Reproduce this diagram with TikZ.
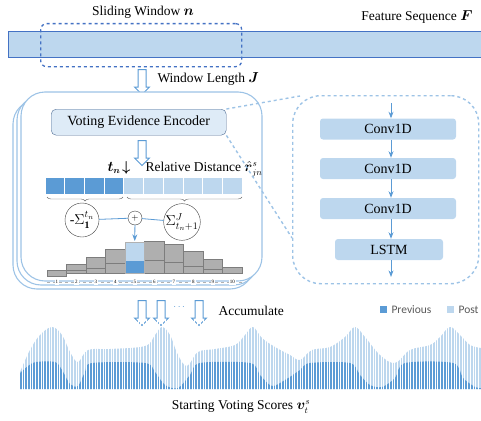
\documentclass[tikz,border=0pt]{standalone}
\usepackage{amsmath,amssymb,bm}
\usepackage{fontspec}
\setmainfont{Liberation Serif}
\newfontfamily\legendfont{Carlito}
\usetikzlibrary{
  arrows.meta, shapes.arrows, positioning, calc,
  decorations.pathreplacing
}
\definecolor{BlueDark}{RGB}{91,155,213}
\definecolor{BlueLight}{RGB}{189,215,238}
\definecolor{BluePale}{RGB}{222,235,247}
\definecolor{BlueLine}{RGB}{157,195,230}
\definecolor{BlueEdge}{RGB}{68,114,196}
\definecolor{BoxEdge}{RGB}{80,110,150}
\definecolor{BarGray}{RGB}{175,175,175}
\definecolor{BarEdge}{RGB}{125,125,125}
\definecolor{TextGray}{RGB}{89,89,89}

\begin{document}
\begin{tikzpicture}[x=1pt,y=-1pt,
    txt/.style={font=\fontsize{13.5}{15}\selectfont},
    hollow/.style={single arrow,draw=BlueDark,fill=white,line width=1pt,
                   rotate=-90,minimum height=25pt,inner xsep=0pt,inner ysep=3.5pt,
                   single arrow head extend=3.5pt},
    stack/.style={draw=BlueLine,line width=1.1pt,rounded corners=24pt},
    cell/.style={draw=white,line width=0.8pt,minimum width=19.7pt,
                 minimum height=17pt,inner sep=0pt},
    layer/.style={fill=BlueLight,rounded corners=3pt,minimum height=21pt,
                  inner sep=0pt,font=\fontsize{14}{16}\selectfont},
    arr/.style={-{Stealth},BlueDark,thick},
    ring/.style={circle,draw=black!75,thin,fill=white,inner sep=0pt},
    bar/.style={fill=BarGray,draw=BarEdge,line width=0.6pt}
  ]
  \useasboundingbox (0,0) rectangle (481,420);

  % feature sequence and sliding window
  \node[draw=BlueEdge,fill=BlueLight,minimum width=480pt,minimum height=26pt,
        inner sep=0pt,anchor=north west] (seq) at (8,31) {};
  \node[draw=BlueEdge,dashed,line width=1.3pt,rounded corners=6pt,
        minimum width=201pt,minimum height=43pt,anchor=north west] (win) at (40,23) {};
  \node[txt] (wintxt) at (143,12) {Sliding Window $\bm{n}$};
  \node[txt,anchor=east] (seqtxt) at (476,17) {Feature Sequence $\bm{F}$};
  \node[hollow] (wdown) at (142,80) {};
  \node[txt,anchor=west] (jtxt) at (154,79) {Window Length $\bm{J}$};

  % stacked voting boxes
  \draw[stack] (13,100) rectangle (254,289);
  \draw[stack] (17,96) rectangle (258,285);
  \draw[stack,fill=white] (21,92) rectangle (262,281);

  \node[draw=BoxEdge,fill=BluePale,rounded corners=5pt,minimum width=175pt,
        minimum height=26pt,anchor=north west,font=\fontsize{14}{16}\selectfont]
        (vee) at (51,109) {Voting Evidence Encoder};
  \node[hollow] (vdown) at (142,151) {};
  \node[txt] (tn) at (119,168) {$\bm{t_n}\!\bm{\downarrow}$};
  \node[txt,anchor=west] (rd) at (142,169) {Relative Distance $\hat{\bm{r}}^{s}_{jn}$};

  \foreach \i in {1,...,10}{
    \ifnum\i<5 \def\cc{BlueDark}\else\def\cc{BlueLight}\fi
    \node[cell,fill=\cc] (c\i) at (45+\i*19.7-9.85,185.5) {};
  }
  \draw[decorate,decoration={brace,mirror,amplitude=4pt},black!60]
    (47,197) -- (123,197);
  \draw[decorate,decoration={brace,mirror,amplitude=4pt},black!60]
    (127,197) -- (242,197);

  \node[ring,minimum size=34pt,font=\fontsize{14}{16}\selectfont] (sl) at (82,220)
    {$\text{-}\Sigma_{\mathbf{1}}^{t_n}$};
  \node[ring,minimum size=36pt,font=\fontsize{14}{16}\selectfont] (sr) at (182,222)
    {$\Sigma_{t_n+1}^{J}$};
  \node[ring,minimum size=14pt,font=\small] (plus) at (135,218) {$+$};
  \draw[BlueDark,thick] (sl) -- (plus);
  \draw[BlueDark,thick] (plus) -- (sr);
  \coordinate (b5top) at (134.75,241);
  \draw[arr] (plus) -- (b5top);

  % histogram
  \foreach \i/\t/\m/\b in {1/270/276/276, 2/264/270/273, 3/257/268/273,
      4/249/263/273, 6/241/260/273, 7/244/262/273, 8/251/266/273,
      9/259/269/273, 10/267/273/273}{
    \pgfmathsetmacro\xl{47+(\i-1)*19.5}
    \pgfmathsetmacro\xr{\xl+19.5}
    \draw[bar] (\xl,\t) rectangle (\xr,\b);
    \draw[BarEdge,line width=0.6pt] (\xl,\m) -- (\xr,\m);
  }
  \fill[BlueLight] (125,242) rectangle (144.5,261);
  \fill[BlueDark] (125,261) rectangle (144.5,273);
  \draw[BarEdge!60,line width=0.6pt] (125,242) rectangle (144.5,273);
  \draw[black!30,dashed] (47,282) -- (242,282);
  \foreach \i in {1,...,10}
    \node[fill=white,inner sep=1pt,font=\fontsize{5}{6}\selectfont] (n\i)
      at (47+\i*19.5-9.75,282) {\i};

  % encoder detail
  \node[draw=BlueLine,dashed,line width=1.4pt,rounded corners=28pt,
        minimum width=186pt,minimum height=188pt,anchor=north west] (enc) at (292,95) {};
  \coordinate (linktop) at (300,96);
  \coordinate (linkbot) at (292,238);
  \draw[BlueLine,dashed,line width=1.4pt] (vee.north east) -- (linktop);
  \draw[BlueLine,dashed,line width=1.4pt] (vee.south east) -- (linkbot);
  \node[layer,minimum width=136pt] (conv1) at (388,129) {Conv1D};
  \node[layer,minimum width=136pt] (conv2) at (388,168.5) {Conv1D};
  \node[layer,minimum width=136pt] (conv3) at (388,208.5) {Conv1D};
  \node[layer,minimum width=108pt] (lstm) at (389,249.5) {LSTM};
  \coordinate (encin) at (391,103);
  \coordinate (encout) at (391,277);
  \draw[arr] (encin) -- (conv1.north -| encin);
  \draw[arr] (conv1.south -| encin) -- (conv2.north -| encin);
  \draw[arr] (conv2.south -| encin) -- (conv3.north -| encin);
  \draw[arr] (conv3.south -| encin) -- (lstm.north -| encin);
  \draw[arr] (lstm.south -| encin) -- (encout);

  % accumulate
  \node[hollow] (acc1) at (142,311) {};
  \node[hollow] (acc2) at (161,311) {};
  \node[hollow] (acc3) at (199,311) {};
  \node[text=BlueDark,font=\bfseries] (dots) at (180,307) {$\cdots$};
  \node[txt,anchor=west] (acctxt) at (215,311) {Accumulate};

  % legend
  \fill[BlueDark] (380,306) rectangle (387,313);
  \node[anchor=west,text=TextGray,font=\legendfont\fontsize{11.5}{13}\selectfont]
    (prev) at (388,310) {Previous};
  \fill[BlueLight] (447,306) rectangle (454,313);
  \node[anchor=west,text=TextGray,font=\legendfont\fontsize{11.5}{13}\selectfont]
    (post) at (455,310) {Post};

  % voting scores
  \fill[BlueLight] (20,389) -- plot[smooth,tension=0.6] coordinates {
    (20,372) (30,350) (40,335) (52,327) (62,335) (70,352) (78,362) (88,350)
    (110,349) (145,346) (155,335) (162,327) (170,335) (178,355) (187,366)
    (198,352) (215,349) (235,345) (245,335) (253,327) (262,338) (275,347)
    (290,355) (300,360) (312,350) (330,347) (345,337) (355,327) (365,337)
    (380,355) (395,363) (410,350) (430,345) (440,337) (450,327) (460,335)
    (470,345) (481,348)} -- (481,389) -- cycle;
  \fill[BlueDark] (20,389) -- plot[smooth,tension=0.5] coordinates {
    (20,373) (28,366) (36,362) (55,362) (62,370) (70,384) (78,386) (85,372)
    (92,363) (145,363) (155,372) (165,385) (178,388) (190,375) (200,363)
    (250,363) (260,375) (272,386) (285,380) (300,370) (310,363) (350,363)
    (360,375) (370,385) (382,387) (395,378) (405,363) (453,363) (463,378)
    (475,387) (481,388)} -- (481,389) -- cycle;
  \foreach \x in {22,24.7,...,481}
    \draw[white,line width=0.7pt] (\x,320) -- (\x,390);
  \node[txt] (score) at (241,407) {Starting Voting Scores $\bm{v}_{t}^{s}$};
\end{tikzpicture}
\end{document}
